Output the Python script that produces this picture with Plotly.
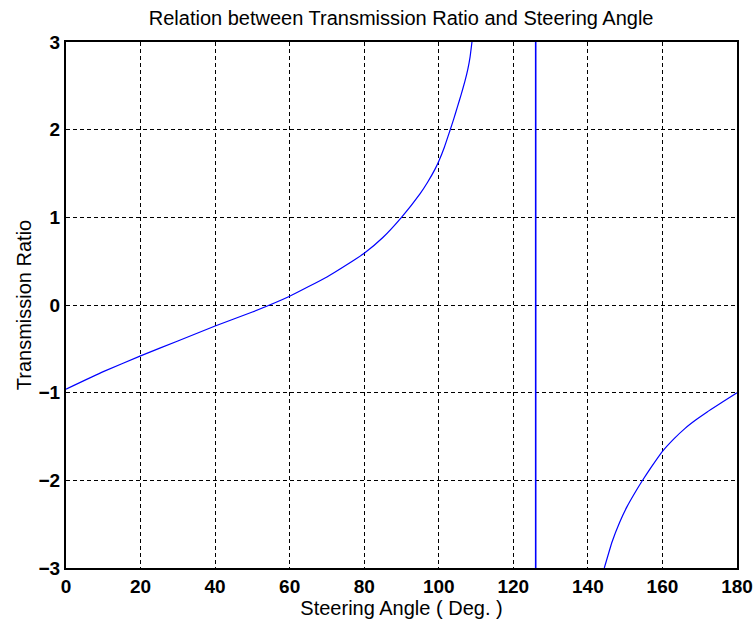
import plotly.graph_objects as go

# Left branch (steering angle in degrees, transmission ratio)
left_angle = [0, 10, 20, 30, 40, 50, 60, 70, 75, 80, 85, 90, 95, 97, 99, 100, 101.5, 103, 104, 105, 106, 107, 107.8, 108.4, 108.9]
left_ratio = [-0.96, -0.76, -0.58, -0.41, -0.24, -0.08, 0.10, 0.32, 0.45, 0.59, 0.77, 1.0, 1.27, 1.40, 1.55, 1.64, 1.80, 1.99, 2.12, 2.26, 2.40, 2.55, 2.69, 2.83, 3.0]

# Right branch
right_angle = [144.4, 146.5, 148.5, 150.5, 152.5, 154.5, 157, 160, 163, 166, 169, 172, 176, 180]
right_ratio = [-3.0, -2.70, -2.48, -2.30, -2.15, -2.01, -1.85, -1.67, -1.53, -1.41, -1.31, -1.22, -1.11, -1.0]

# Vertical asymptote line
asym_angle = [126, 126]
asym_ratio = [-3, 3]

x_ticks = [0, 20, 40, 60, 80, 100, 120, 140, 160, 180]
y_ticks = [-3, -2, -1, 0, 1, 2, 3]

FONT = "Liberation Sans, Arial, sans-serif"
blue = "#0000ff"

fig = go.Figure()
fig.add_trace(go.Scatter(x=left_angle, y=left_ratio, mode="lines",
                         line=dict(color=blue, width=1.2, shape="spline", smoothing=0.4)))
fig.add_trace(go.Scatter(x=right_angle, y=right_ratio, mode="lines",
                         line=dict(color=blue, width=1.2, shape="spline", smoothing=0.4)))
fig.add_trace(go.Scatter(x=asym_angle, y=asym_ratio, mode="lines",
                         line=dict(color=blue, width=1.6)))

axis_common = dict(
    showgrid=True, gridcolor="black", griddash="4px,3px", gridwidth=1.3,
    showline=True, linecolor="black", linewidth=2, mirror=True,
    zeroline=False, ticks="", automargin=False, ticklabeloverflow="allow",
    tickfont=dict(family=FONT, size=19, color="black", weight="bold"),
)

fig.update_layout(
    width=754, height=628,
    margin=dict(l=66, r=17, t=42, b=60),
    paper_bgcolor="white", plot_bgcolor="white",
    showlegend=False,
    title=dict(text="Relation between Transmission Ratio and Steering Angle",
               x=0.532, xanchor="center", y=0.971, yanchor="middle",
               font=dict(family=FONT, size=20, color="black")),
    xaxis=dict(range=[0, 180], tickvals=x_ticks,
               title=dict(text="Steering Angle ( Deg. )", standoff=2,
                          font=dict(family=FONT, size=20, color="black")),
               **axis_common),
    yaxis=dict(range=[-3, 3], tickvals=y_ticks,
               title=dict(text="Transmission Ratio", standoff=2,
                          font=dict(family=FONT, size=20, color="black")),
               **axis_common),
)

fig.write_html("out.html", config={"displayModeBar": False},
               post_script="document.body.style.margin='0px';")
